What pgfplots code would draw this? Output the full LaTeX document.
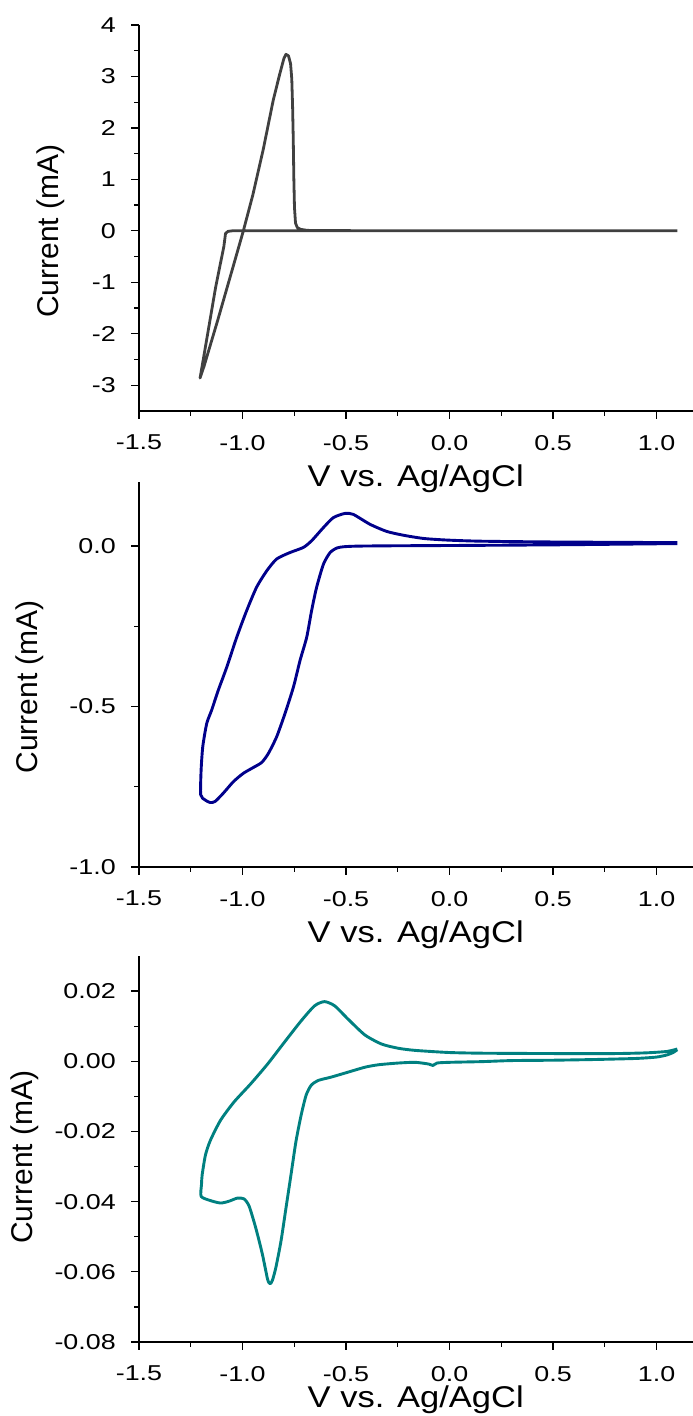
\documentclass[border=0pt]{standalone}
\usepackage{fontspec}
\setmainfont{Liberation Sans}
\newfontfamily\tickfont[FakeStretch=1.25]{Liberation Sans}
\newfontfamily\xlabfont[FakeStretch=1.15]{Liberation Sans}
\usepackage{pgfplots}
\pgfplotsset{compat=1.18}
\definecolor{cvgray}{RGB}{64,64,64}
\definecolor{cvnavy}{RGB}{0,0,139}
\definecolor{cvteal}{RGB}{0,128,128}
\pgfplotsset{
  cvstyle/.style={
    scale only axis, width=554bp, height=386bp,
    xmin=-1.5, xmax=1.176,
    axis lines*=left,
    axis line style={line width=1.3bp, black},
    tick align=outside,
    major tick length=8bp, minor tick length=5bp,
    every tick/.style={black, line width=1.3bp},
    xtick={-1.5,-1,-0.5,0,0.5,1},
    minor x tick num=1, minor y tick num=1,
    /pgf/number format/assume math mode=true,
    ticklabel style={font=\tickfont\fontsize{21.5bp}{25bp}\selectfont},
    xticklabel style={/pgf/number format/fixed, /pgf/number format/fixed zerofill, /pgf/number format/precision=1},
    yticklabel style={anchor=east, inner sep=0pt, xshift=-15bp},
    xticklabel style={anchor=north, inner sep=0pt, yshift=-16bp},
    xlabel style={font=\xlabfont\fontsize{30bp}{34bp}\selectfont},
    ylabel style={font=\fontsize{30bp}{34bp}\selectfont},
    xlabel={V vs. Ag/AgCl},
    ylabel={Current (mA)},
    scaled ticks=false,
  }
}
\begin{document}
\begin{tikzpicture}[x=1bp,y=1bp]
\useasboundingbox (0,0) rectangle (693,1416);
% ---------- Panel 1 ----------
\begin{axis}[cvstyle, at={(139bp,1005bp)}, anchor=south west,
  ymin=-3.5, ymax=4, ytick={-3,-2,-1,0,1,2,3,4},
  yticklabel style={/pgf/number format/fixed, /pgf/number format/precision=0},
  xlabel style={at={(axis description cs:0.4995,0)}, anchor=center, yshift=-68bp},
  ylabel style={at={(axis description cs:-0.159,0.466)}, anchor=center},
]
\addplot[cvgray, line width=2.8bp, line join=round] coordinates {
(1.1,0) (0,0) (-1.0,0) (-1.05,0) (-1.07,-0.01) (-1.082,-0.05) (-1.09,-0.3)
(-1.13,-1.10) (-1.17,-2.04) (-1.205,-2.86)
(-1.185,-2.62) (-1.16,-2.28) (-1.12,-1.74) (-1.08,-1.18) (-1.04,-0.62)
(-0.996,0) (-0.95,0.70) (-0.90,1.58) (-0.851,2.55) (-0.82,3.05) (-0.80,3.35)
(-0.79,3.43) (-0.778,3.40) (-0.768,3.25) (-0.762,2.95) (-0.758,2.4)
(-0.755,1.8) (-0.752,1.0) (-0.749,0.45) (-0.744,0.15) (-0.735,0.06)
(-0.72,0.03) (-0.69,0.01) (-0.65,0.005) (0,0) (1.1,0)
};
\end{axis}
% ---------- Panel 2 ----------
\begin{axis}[cvstyle, at={(139bp,549bp)}, anchor=south west, height=385bp,
  ymin=-1, ymax=0.2, ytick={-1,-0.5,0},
  yticklabel style={/pgf/number format/fixed, /pgf/number format/fixed zerofill, /pgf/number format/precision=1},
  xlabel style={at={(axis description cs:0.4995,0)}, anchor=center, yshift=-68bp},
  ylabel style={at={(axis description cs:-0.197,0.468)}, anchor=center},
]
\addplot[cvnavy, line width=2.9bp, smooth, tension=0.4, line join=round] coordinates {
(1.1,0.008) (0.5,0.004) (0.0,0.002) (-0.3,0.001) (-0.45,0.0) (-0.513,-0.002)
(-0.545,-0.006) (-0.577,-0.02) (-0.609,-0.056) (-0.642,-0.128) (-0.666,-0.2)
(-0.690,-0.284) (-0.722,-0.356) (-0.754,-0.439) (-0.795,-0.522) (-0.835,-0.594)
(-0.875,-0.646) (-0.907,-0.674) (-0.948,-0.690) (-0.996,-0.708) (-1.044,-0.734)
(-1.093,-0.770) (-1.133,-0.796) (-1.157,-0.799) (-1.181,-0.791) (-1.202,-0.775)
(-1.2,-0.698) (-1.192,-0.625) (-1.173,-0.553) (-1.149,-0.511) (-1.117,-0.449)
(-1.076,-0.377) (-1.028,-0.284) (-0.980,-0.201) (-0.932,-0.128) (-0.883,-0.077)
(-0.835,-0.040) (-0.771,-0.020) (-0.706,-0.004) (-0.666,0.017) (-0.609,0.058)
(-0.561,0.089) (-0.505,0.102) (-0.465,0.099) (-0.384,0.068) (-0.304,0.046)
(-0.223,0.034) (-0.126,0.024) (-0.014,0.019) (0.147,0.0155) (0.5,0.013) (1.1,0.011)
};
\end{axis}
% ---------- Panel 3 ----------
\begin{axis}[cvstyle, at={(139bp,74bp)}, anchor=south west,
  ymin=-0.08, ymax=0.03, ytick={-0.08,-0.06,-0.04,-0.02,0,0.02},
  yticklabel style={/pgf/number format/fixed, /pgf/number format/fixed zerofill, /pgf/number format/precision=2},
  xlabel style={at={(axis description cs:0.4995,0)}, anchor=center, yshift=-58bp},
  ylabel style={at={(axis description cs:-0.206,0.479)}, anchor=center},
]
\addplot[cvteal, line width=2.9bp, smooth, tension=0.4, line join=round] coordinates {
(1.1,0.0033) (1.08,0.0025) (1.05,0.0018) (1.0,0.0012) (0.9,0.0008) (0.7,0.0005)
(0.5,0.0003) (0.3,0.0002) (0.158,-0.0001) (0.0,-0.0003) (-0.06,-0.0005)
(-0.08,-0.0012) (-0.10,-0.0008) (-0.166,-0.0003) (-0.247,-0.0005) (-0.344,-0.001)
(-0.409,-0.0017) (-0.490,-0.0031) (-0.571,-0.0045) (-0.636,-0.0055)
(-0.669,-0.0069) (-0.693,-0.0097) (-0.717,-0.0154) (-0.742,-0.0229)
(-0.766,-0.0324) (-0.790,-0.0418) (-0.814,-0.0512) (-0.839,-0.0588)
(-0.856,-0.0625) (-0.867,-0.0634) (-0.879,-0.0621) (-0.904,-0.0550)
(-0.936,-0.0475) (-0.968,-0.0413) (-0.993,-0.0392) (-1.025,-0.0390)
(-1.066,-0.0399) (-1.106,-0.0404) (-1.155,-0.0397) (-1.2,-0.0385)
(-1.198,-0.035) (-1.195,-0.0324) (-1.179,-0.0267) (-1.155,-0.0225)
(-1.106,-0.0168) (-1.041,-0.0116) (-0.960,-0.0064) (-0.879,-0.0008)
(-0.798,0.0054) (-0.717,0.0115) (-0.652,0.0158) (-0.604,0.0170)
(-0.555,0.0158) (-0.490,0.0120) (-0.409,0.0075) (-0.328,0.0049)
(-0.247,0.0037) (-0.166,0.0031) (-0.004,0.0025) (0.158,0.0023) (0.5,0.0022)
(0.8,0.0022) (0.95,0.0024) (1.05,0.0028) (1.1,0.0035)
};
\end{axis}
\end{tikzpicture}
\end{document}
